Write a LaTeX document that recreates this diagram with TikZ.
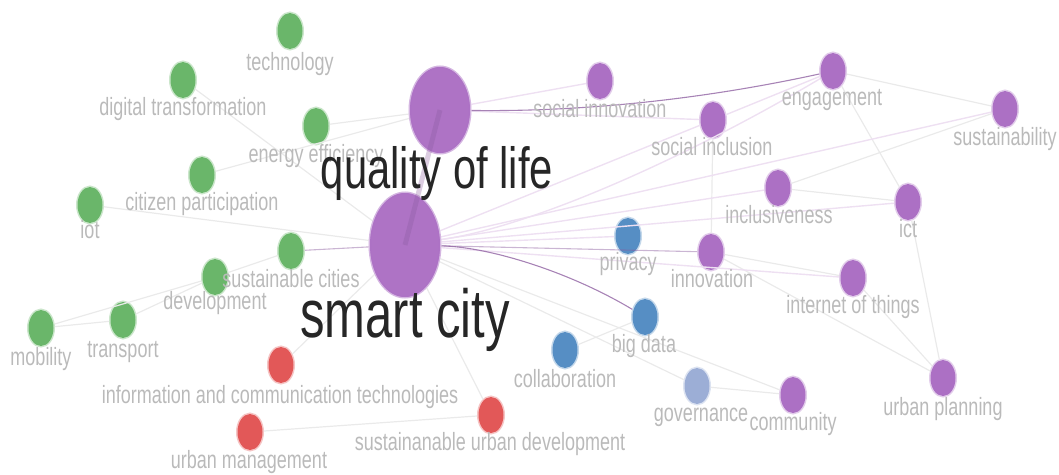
\documentclass[tikz,border=0pt]{standalone}
\usepackage{fontspec}
\setmainfont{Liberation Sans}
\newfontfamily\lblfont[FakeStretch=0.72]{Liberation Sans}
\usetikzlibrary{shapes.geometric}

\definecolor{kwgreen}{RGB}{106,182,106}
\definecolor{kwpurple}{RGB}{172,112,196}
\definecolor{kwblue}{RGB}{86,142,196}
\definecolor{kwred}{RGB}{226,88,88}
\definecolor{kwpale}{RGB}{156,174,214}
\definecolor{lblgray}{RGB}{186,186,186}
\definecolor{faintgray}{RGB}{234,234,234}
\definecolor{faintpurple}{RGB}{238,224,242}

\begin{document}
\begin{tikzpicture}[x=1pt,y=-1pt,
  kw/.style={ellipse,inner sep=0pt,minimum width=25pt,minimum height=36pt,
    fill=#1,draw=#1,draw opacity=0.35,line width=3pt},
  hub/.style={ellipse,inner sep=0pt,fill=kwpurple,fill opacity=0.85,
    draw=kwpurple,draw opacity=0.3,line width=3pt},
  lbl/.style={anchor=base,inner sep=0pt,text=lblgray,
    font=\lblfont\fontsize{25}{25}\selectfont},
  hublbl/.style={anchor=base,inner sep=0pt,text=black!85},
  faint/.style={faintgray,line width=1.2pt},
  faintp/.style={faintpurple,line width=1.4pt},
  strong/.style={kwpurple!80!black,line width=1.1pt,opacity=0.75}]
  \useasboundingbox (0,0) rectangle (1059,474);

  % hubs
  \node[hub,minimum width=60pt,minimum height=86pt] (qol) at (440,110) {};
  \node[hub,minimum width=70pt,minimum height=104pt] (sc) at (405,245) {};

  % keywords: name/x/y/colour
  \foreach \n/\x/\y/\c in {
      tech/290/31/kwgreen, digt/183/80/kwgreen, ener/316/126/kwgreen,
      citp/202/175/kwgreen, iot/90/205/kwgreen, susc/291/251/kwgreen,
      dev/215/277/kwgreen, mob/41/328/kwgreen, trans/123/320/kwgreen,
      ictech/281/365/kwred, umgt/250/432/kwred, sud/491/415/kwred,
      priv/628/236/kwblue, bd/645/317/kwblue, coll/565/350/kwblue,
      gov/697/386/kwpale,
      soci/600/81/kwpurple, eng/833/71/kwpurple, socinc/713/120/kwpurple,
      sust/1005/109/kwpurple, incl/778/188/kwpurple, ict/908/202/kwpurple,
      inn/711/252/kwpurple, iots/853/278/kwpurple, uplan/943/378/kwpurple,
      comm/793/395/kwpurple}
    \node[kw=\c] (\n) at (\x,\y) {};

  % links
  \foreach \a/\b in {mob/trans, mob/dev, trans/dev, dev/susc, iot/sc,
      digt/sc, citp/qol, ener/qol, ictech/sc, umgt/sud, sud/sc,
      coll/bd, gov/sc, comm/sc, eng/sust, eng/ict, sust/incl, ict/uplan,
      inn/uplan, iots/inn, socinc/inn, incl/ict, comm/gov, iots/uplan}
    \draw[faint] (\a) -- (\b);
  \foreach \a/\b in {sc/socinc, sc/incl, sc/ict, sc/iots, sc/priv,
      qol/socinc, qol/soci, socinc/eng, sc/sust}
    \draw[faintp] (\a) -- (\b);
  \draw[faintp] (sc) .. controls (540,225) and (700,150) .. (eng);
  \draw[strong] (qol) .. controls (580,112) and (700,100) .. (eng);
  \draw[strong] (sc) .. controls (490,247) and (570,272) .. (bd);
  \draw[strong,opacity=0.45] (sc) -- (inn);
  \draw[strong,opacity=0.45] (sc) -- (susc);

  % redraw hubs over their links, then the link between them
  \node[hub,minimum width=60pt,minimum height=86pt] at (440,110) {};
  \node[hub,minimum width=70pt,minimum height=104pt] at (405,245) {};
  \draw[strong,line width=5pt,opacity=0.3] (qol.center) -- (sc.center);

  % labels: name/x/baseline/text
  \foreach \n/\x/\y/\t in {
      tech/290/70/technology, digt/183/115/digital transformation,
      ener/316/162/energy efficiency, citp/202/210/citizen participation,
      iot/90/238/iot, susc/291/287/sustainable cities,
      dev/215/309/development, mob/41/365/mobility, trans/123/357/transport,
      ictech/280/403/information and communication technologies,
      umgt/249/468/urban management, sud/490/450/sustainanable urban development,
      priv/628/270/privacy, bd/644/352/big data, coll/565/387/collaboration,
      gov/701/421/governance,
      soci/600/117/social innovation, eng/832/105/engagement,
      socinc/712/155/social inclusion, sust/1005/145/sustainability,
      incl/779/223/inclusiveness, ict/908/237/ict, inn/712/287/innovation,
      iots/853/313/internet of things, uplan/943/415/urban planning,
      comm/793/430/community}
    \node[lbl] (\n-l) at (\x,\y) {\t};

  \node[hublbl,font=\lblfont\fontsize{58}{58}\selectfont] (qol-l) at (437,188) {quality of life};
  \node[hublbl,font=\lblfont\fontsize{68}{68}\selectfont] (sc-l) at (405,337) {smart city};
\end{tikzpicture}
\end{document}
